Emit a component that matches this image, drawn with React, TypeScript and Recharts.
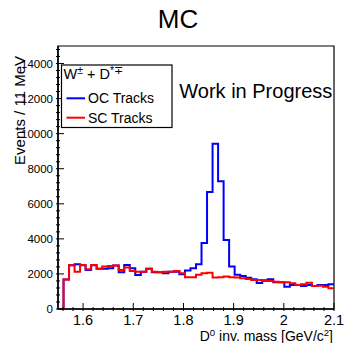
import { ComposedChart, Line, XAxis, YAxis, ReferenceArea } from 'recharts'

// D0 invariant mass, 50 bins of 11 MeV starting at 1.55 GeV/c^2
const BIN_LOW = 1.55
const BIN_WIDTH = 0.011

const OC_COUNTS = [
  0, 1680, 2500, 2550, 2500, 2230, 2500, 2290, 2290, 2330,
  2480, 2100, 2510, 2330, 1940, 2130, 2290, 2100, 2100, 2040,
  2130, 2130, 1980, 2190, 2330, 2550, 3770, 6680, 9430, 7280,
  3940, 2420, 1960, 1880, 1780, 1700, 1490, 1640, 1700, 1520,
  1520, 1270, 1370, 1370, 1310, 1370, 1310, 1370, 1370, 1410,
]

const SC_COUNTS = [
  0, 1680, 2500, 2130, 2510, 2270, 2510, 2290, 2420, 2450,
  2480, 2230, 2360, 2170, 2130, 2130, 2290, 2130, 2100, 2130,
  2130, 2170, 2040, 1810, 1810, 1950, 2040, 2070, 1790, 1810,
  1850, 1810, 1790, 1750, 1710, 1660, 1660, 1600, 1600, 1560,
  1520, 1520, 1470, 1370, 1410, 1500, 1310, 1330, 1270, 1180,
]

const X_MAJOR = [1.6, 1.7, 1.8, 1.9, 2.0, 2.1]
const X_LABELS = ['1.6', '1.7', '1.8', '1.9', '2', '2.1']
const Y_MAJOR = [0, 2000, 4000, 6000, 8000, 10000, 12000, 14000]
const Y_LABELS = ['0', '2000', '4000', '6000', '8000', '10000', '12000', '14000']

const X_MIN = 1.55
const X_MAX = 2.1
const Y_MAX = 15000

// minor ticks: every 0.02 on x, every 400 on y
const xTicks: number[] = []
for (let k = 78; k <= 105; k++) xTicks.push(+(k * 0.02).toFixed(2))
const yTicks: number[] = []
for (let k = 0; k * 400 <= Y_MAX; k++) yTicks.push(k * 400)

// step-line rows: one per bin low edge, plus the closing edge
const data = OC_COUNTS.map((oc, i) => ({
  x: +(BIN_LOW + i * BIN_WIDTH).toFixed(3),
  oc,
  sc: SC_COUNTS[i],
}))
data.push({ x: X_MAX, oc: OC_COUNTS[OC_COUNTS.length - 1], sc: SC_COUNTS[SC_COUNTS.length - 1] })

const FONT = 'Liberation Sans, Arial, Helvetica, sans-serif'

const XTick = (props: any) => {
  const { x, y, payload } = props
  const idx = X_MAJOR.findIndex((v) => Math.abs(v - payload.value) < 1e-6)
  const major = idx >= 0
  return (
    <g>
      <line x1={x} x2={x} y1={y} y2={y - (major ? 8 : 4)} stroke="#000" strokeWidth={1} />
      {major && (
        <text x={x} y={y + 14} textAnchor="middle" fontSize={14.5} fontFamily={FONT} fill="#000">
          {X_LABELS[idx]}
        </text>
      )}
    </g>
  )
}

const YTick = (props: any) => {
  const { x, y, payload } = props
  const idx = Y_MAJOR.indexOf(payload.value)
  const major = idx >= 0
  return (
    <g>
      <line x1={x} x2={x + (major ? 8 : 4)} y1={y} y2={y} stroke="#000" strokeWidth={1} />
      {major && (
        <text x={x - 3} y={y + 4} textAnchor="end" fontSize={11.5} fontFamily={FONT} fill="#000">
          {Y_LABELS[idx]}
        </text>
      )}
    </g>
  )
}

export default function App() {
  return (
    <div style={{ position: 'absolute', left: 0, top: 0, width: 346, height: 343, background: '#fff' }}>
      <ComposedChart
        width={346}
        height={343}
        data={data}
        margin={{ top: 46, right: 12, left: 0, bottom: 0 }}
      >
        <XAxis
          dataKey="x"
          type="number"
          domain={[X_MIN, X_MAX]}
          ticks={xTicks}
          interval={0}
          height={34}
          tickSize={0}
          tickLine={false}
          tick={<XTick />}
          axisLine={{ stroke: '#000', strokeWidth: 1.5 }}
          allowDataOverflow
        />
        <YAxis
          type="number"
          domain={[0, Y_MAX]}
          ticks={yTicks}
          interval={0}
          width={58}
          tickSize={0}
          tickLine={false}
          tick={<YTick />}
          axisLine={{ stroke: '#000', strokeWidth: 1.5 }}
          allowDataOverflow
        />
        <ReferenceArea
          x1={X_MIN}
          x2={X_MAX}
          y1={0}
          y2={Y_MAX}
          fill="none"
          stroke="#000"
          strokeWidth={1.2}
          ifOverflow="visible"
        />
        <Line
          type="stepAfter"
          dataKey="oc"
          stroke="#0000ff"
          strokeWidth={2}
          dot={false}
          isAnimationActive={false}
        />
        <Line
          type="stepAfter"
          dataKey="sc"
          stroke="#ff0000"
          strokeWidth={2}
          dot={false}
          isAnimationActive={false}
        />
      </ComposedChart>

      <svg
        width={346}
        height={343}
        style={{ position: 'absolute', left: 0, top: 0, pointerEvents: 'none' }}
        fontFamily={FONT}
      >
        <text x={178} y={28} textAnchor="middle" fontSize={26} fill="#000">
          MC
        </text>
        <text
          x={25}
          y={56}
          transform="rotate(-90 25 56)"
          textAnchor="end"
          fontSize={15}
          fill="#000"
        >
          Events / 11 MeV
        </text>
        <text x={333} y={341} textAnchor="end" fontSize={14} fill="#000">
          D<tspan fontSize={9.5} dy={-5}>0</tspan>
          <tspan dy={5}> inv. mass [GeV/c</tspan>
          <tspan fontSize={9.5} dy={-5}>2</tspan>
          <tspan dy={5}>]</tspan>
        </text>

        <rect x={61.5} y={65} width={110.5} height={62.5} fill="#fff" stroke="#000" strokeWidth={1.2} />
        <text x={63.5} y={79} fontSize={14.5} fill="#000">
          W<tspan fontSize={10.5} dy={-5}>±</tspan>
          <tspan dy={5}> + D</tspan>
          <tspan fontSize={10.5} dy={-5}>*∓</tspan>
        </text>
        <line x1={66.5} x2={85} y1={98.3} y2={98.3} stroke="#0000ff" strokeWidth={2} />
        <text x={88} y={103.3} fontSize={14} fill="#000">
          OC Tracks
        </text>
        <line x1={66.5} x2={85} y1={117.7} y2={117.7} stroke="#ff0000" strokeWidth={2} />
        <text x={88} y={122.7} fontSize={14} fill="#000">
          SC Tracks
        </text>

        <text x={179.3} y={98.3} fontSize={20} fill="#000">
          Work in Progress
        </text>
      </svg>
    </div>
  )
}
